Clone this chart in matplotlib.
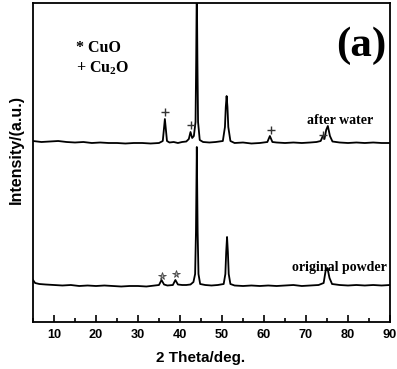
import matplotlib
matplotlib.use('Agg')
import matplotlib.pyplot as plt
from matplotlib.ticker import MultipleLocator

plt.rcParams['mathtext.fontset'] = 'custom'
plt.rcParams['mathtext.rm'] = 'Liberation Serif:bold'
plt.rcParams['mathtext.bf'] = 'Liberation Serif:bold'

# original powder pattern (2theta, intensity in arbitrary units)
x_orig = [5, 5.5, 6.5, 8, 10, 12, 14, 16, 18, 20, 22, 24, 26, 28, 30, 32, 34, 35.0, 35.6, 36.2,
          37, 38.3, 38.9, 39.5, 40.5, 41.5, 42.5, 43.2, 43.6, 43.8, 44.0, 44.2, 44.4, 44.8, 46,
          47.5, 49, 50.4, 50.8, 51.0, 51.2, 51.4, 51.6, 52.0, 53, 55, 57, 59, 61, 63, 65, 67, 69,
          71, 73, 74.2, 74.7, 75.1, 75.6, 76.2, 78, 80, 82, 84, 86, 88, 90]
y_orig = [42, 39, 38, 37.5, 37, 36.5, 37, 36, 36.5, 36, 36.5, 36, 35.5, 36, 36, 35.5, 36.5, 37,
          42, 37.5, 36.5, 37, 42, 37.5, 37, 37, 37.5, 40, 48, 90, 175, 90, 48, 38, 37, 36.5, 37,
          38, 48, 70, 85, 70, 48, 38, 36.5, 36, 36.5, 36, 36.5, 36, 36.5, 37, 36, 36.5, 37, 39,
          52, 54, 44, 38, 37, 36.5, 37, 36.5, 37, 36.5, 37]

# after water pattern
x_water = [5, 7, 9, 11, 13, 15, 17, 19, 21, 23, 25, 27, 29, 31, 33, 35, 35.9, 36.4, 36.9, 37.5,
           38.5, 39.5, 40.5, 41.5, 42.1, 42.5, 42.9, 43.3, 43.7, 43.85, 44.0, 44.15, 44.3, 44.7,
           45.5, 47, 48.5, 50.2, 50.7, 50.9, 51.1, 51.3, 51.5, 52.0, 53, 55, 57, 59, 60.8, 61.4,
           62.0, 63, 65, 67, 69, 71, 72.5, 73.5, 74.0, 74.4, 74.8, 75.2, 75.7, 76.3, 78, 80, 82,
           84, 86, 88, 90]
y_water = [181, 180, 180.5, 181, 180, 179.5, 180, 179, 179.5, 179, 179, 178.5, 179, 179, 178.5,
           179, 181, 203, 181, 179.5, 180, 179, 180, 180.5, 183, 190, 184, 186, 200, 260, 340,
           260, 200, 182, 180, 179.5, 180, 181, 195, 215, 226, 215, 195, 181, 179, 179.5, 178.5,
           179, 180, 186, 180, 179.5, 179, 179.5, 179, 179.5, 180, 181, 186, 183, 192, 196, 186,
           180.5, 179.5, 179, 179.5, 179, 179.5, 179, 179]

# phase markers
plus_x = [36.4, 42.6, 61.7, 74.0]
plus_y = [210, 197, 192, 187]
star_x = [35.7, 39.0]
star_y = [46, 48]

fig = plt.figure(figsize=(3.97, 3.69), dpi=100)
ax = fig.add_axes([33/397, 47/369, 357/397, 319/369])

ax.plot(x_orig, y_orig, color='black', lw=1.3)
ax.plot(x_water, y_water, color='black', lw=1.3)
ax.plot(plus_x, plus_y, ls='none', marker='+', ms=6, mew=1.0, color='#333333')
ax.plot(star_x, star_y, ls='none', marker='*', ms=5.5, mew=0.6, mfc='#aaaaaa', mec='#444444')

ax.set_xlim(5, 90)
ax.set_ylim(0, 319)
ax.set_yticks([])
ax.xaxis.set_major_locator(MultipleLocator(10))
ax.xaxis.set_minor_locator(MultipleLocator(5))
ax.tick_params(axis='x', which='major', direction='in', length=5, width=1.2, pad=5)
ax.tick_params(axis='x', which='minor', direction='in', length=3, width=1.2)
for lab in ax.get_xticklabels():
    lab.set_fontfamily('Liberation Sans')
    lab.set_fontweight('bold')
    lab.set_fontsize(9.2)
for s in ax.spines.values():
    s.set_linewidth(1.3)

sans = dict(fontfamily='Liberation Sans', fontweight='bold')
fig.text(201/397, 1 - 358/369, '2 Theta/deg.', fontsize=11, ha='center', va='center', **sans)
fig.text(16/397, 1 - 150/369, 'Intensity/(a.u.)', fontsize=11.5, rotation=90,
         ha='center', va='center', **sans)

serif = dict(fontfamily='Liberation Serif', fontweight='bold')
fig.text(76/397, 1 - 48/369, '* CuO', fontsize=11.5, va='center', ha='left', **serif)
fig.text(76/397, 1 - 68/369, r'+ Cu$_{2}$O', fontsize=11.5, va='center', ha='left', **serif)
fig.text(361/397, 1 - 46/369, '(a)', fontsize=31, va='center', ha='center', **serif)
fig.text(340/397, 1 - 120/369, 'after water', fontsize=10, va='center', ha='center', **serif)
fig.text(339/397, 1 - 267/369, 'original powder', fontsize=10, va='center', ha='center', **serif)

fig.savefig('out.png', dpi=100)
